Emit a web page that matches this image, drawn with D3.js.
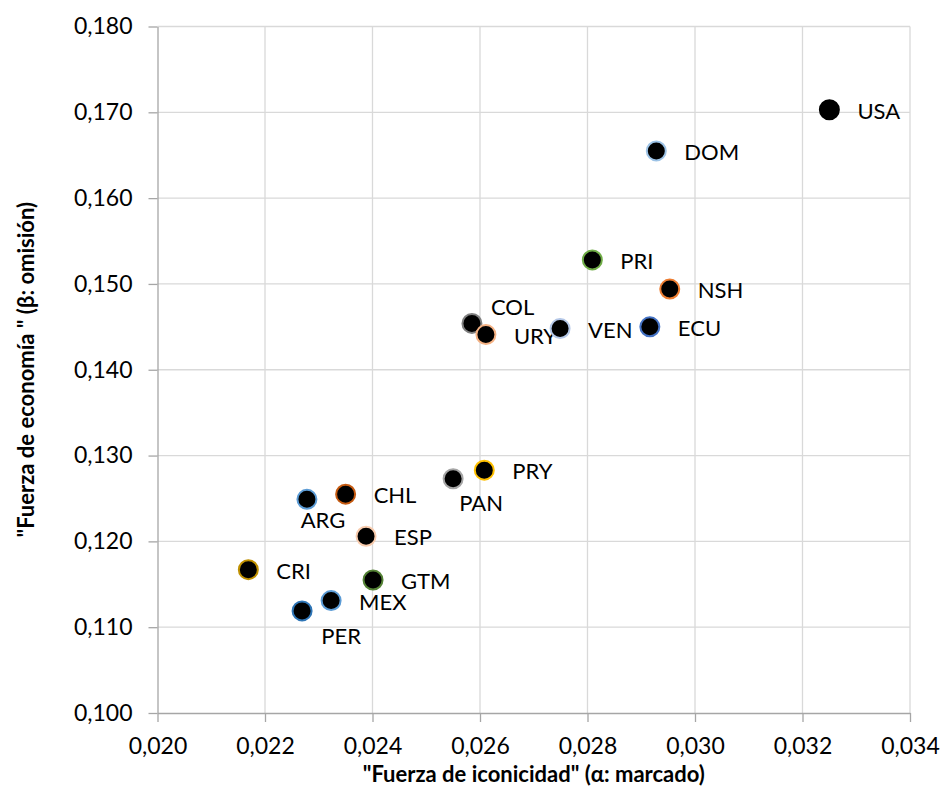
<!DOCTYPE html>
<html lang="es">
<head>
<meta charset="UTF-8">
<title>Fuerza de iconicidad vs economía</title>
<style>
    body { margin: 0; background: #fff; }
    .grid line { stroke: #d9d9d9; stroke-width: 1.3px; }
    .axis path, .axis line { stroke: #a6a6a6; stroke-width: 1.3px; }
    .axis text { font: 23px Lato, sans-serif; fill: #000; }
    .label { font: 22px Lato, sans-serif; fill: #000; }
    .title { font: bold 22px Lato, sans-serif; fill: #000; }
</style>
</head>
<body>
<svg width="945" height="786"></svg>
<script src="https://d3js.org/d3.v7.min.js"></script>
<script>
// data
const countries = ["USA", "DOM", "PRI", "NSH", "ECU", "COL", "URY", "VEN",
                   "PRY", "PAN", "ARG", "CHL", "ESP", "CRI", "GTM", "MEX", "PER"];
const alpha = [0.0325, 0.02928, 0.02809, 0.02953, 0.02916, 0.02585, 0.02611, 0.02749,
               0.02608, 0.02550, 0.02278, 0.02350, 0.02388, 0.02169, 0.02401, 0.02323, 0.02269];
const beta = [0.1703, 0.1655, 0.1528, 0.1494, 0.1450, 0.1454, 0.1441, 0.1448,
              0.1283, 0.1273, 0.1249, 0.1255, 0.1206, 0.1167, 0.1155, 0.1131, 0.1119];
const xTicks = [0.020, 0.022, 0.024, 0.026, 0.028, 0.030, 0.032, 0.034];
const yTicks = [0.100, 0.110, 0.120, 0.130, 0.140, 0.150, 0.160, 0.170, 0.180];

// marker outline per country
const outline = {
    USA: "#000000", DOM: "#9dc3e6", PRI: "#70ad47", NSH: "#ed7d31", ECU: "#4472c4",
    COL: "#7f7f7f", URY: "#f4b183", VEN: "#b4c7e7", PRY: "#ffc000", PAN: "#a5a5a5",
    ARG: "#5b9bd5", CHL: "#c55a11", ESP: "#f8cbad", CRI: "#bf9000", GTM: "#548235",
    MEX: "#5b9bd5", PER: "#2e75b6"
};
// label offsets that differ from the default (right of the marker)
const labelPlace = {
    ARG: { dx: 16, dy: 29, anchor: "middle" },
    PAN: { dx: 28, dy: 32, anchor: "middle" },
    PER: { dx: 39, dy: 33, anchor: "middle" },
    COL: { dx: 19, dy: -8, anchor: "start" }
};

const svg = d3.select("svg");
const plotL = 157.5, plotR = 910, plotT = 26.5, plotB = 713;

const x = d3.scaleLinear().domain([0.020, 0.034]).range([plotL, plotR]);
const y = d3.scaleLinear().domain([0.100, 0.180]).range([plotB, plotT]);
const fmt = v => d3.format(".3f")(v).replace(".", ",");

// gridlines
const grid = svg.append("g").attr("class", "grid");
grid.selectAll(".gx").data(xTicks.slice(1)).enter().append("line")
    .attr("x1", d => x(d)).attr("x2", d => x(d))
    .attr("y1", plotT).attr("y2", plotB);
grid.selectAll(".gy").data(yTicks.slice(1)).enter().append("line")
    .attr("x1", plotL).attr("x2", plotR)
    .attr("y1", d => y(d)).attr("y2", d => y(d));

// axes
svg.append("g").attr("class", "axis xaxis")
    .attr("transform", `translate(0,${plotB})`)
    .call(d3.axisBottom(x).tickValues(xTicks).tickFormat(fmt).tickSize(9).tickSizeOuter(0).tickPadding(16));
svg.append("g").attr("class", "axis yaxis")
    .attr("transform", `translate(${plotL},0)`)
    .call(d3.axisLeft(y).tickValues(yTicks).tickFormat(fmt).tickSize(9).tickSizeOuter(0).tickPadding(16));

// points, each with its own label
const pts = svg.append("g").selectAll("g").data(countries).enter().append("g");

pts.append("circle")
    .attr("cx", (d, i) => x(alpha[i]))
    .attr("cy", (d, i) => y(beta[i]))
    .attr("r", 9.5)
    .attr("fill", "#000")
    .attr("stroke", d => outline[d])
    .attr("stroke-width", 2);

pts.append("text")
    .attr("class", "label")
    .attr("x", (d, i) => x(alpha[i]) + (labelPlace[d] ? labelPlace[d].dx : 28))
    .attr("y", (d, i) => y(beta[i]) + (labelPlace[d] ? labelPlace[d].dy : 9))
    .attr("text-anchor", d => labelPlace[d] ? labelPlace[d].anchor : "start")
    .text(d => d);

// axis titles
svg.append("text").attr("class", "title")
    .attr("x", (plotL + plotR) / 2).attr("y", 782)
    .attr("text-anchor", "middle")
    .text('"Fuerza de iconicidad" (α: marcado)');

svg.append("text").attr("class", "title")
    .attr("transform", `translate(34,${(plotT + plotB) / 2}) rotate(-90)`)
    .attr("text-anchor", "middle")
    .text('"Fuerza de economía " (β: omisión)');
</script>
</body>
</html>
